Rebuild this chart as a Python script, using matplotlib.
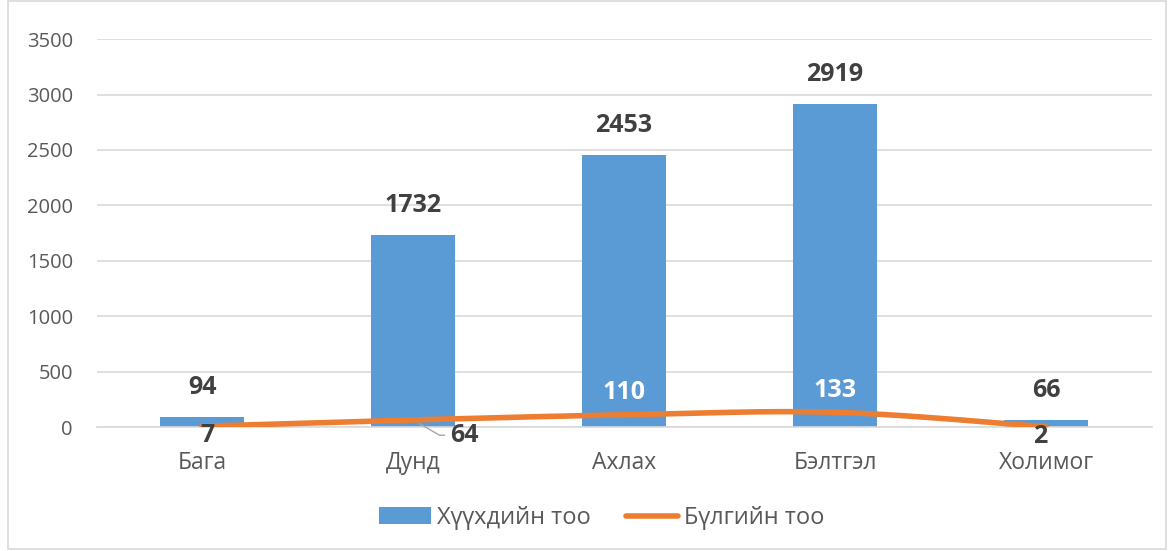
import numpy as np
import matplotlib
matplotlib.use("Agg")
import matplotlib.pyplot as plt
from matplotlib.patches import Rectangle

categories = ["Бага", "Дунд", "Ахлах", "Бэлтгэл", "Холимог"]
children = [94, 1732, 2453, 2919, 66]
families = [7, 64, 110, 133, 2]
series_names = ["Хүүхдийн тоо", "Бүлгийн тоо"]
yticks = [0, 500, 1000, 1500, 2000, 2500, 3000, 3500]

plt.rcParams['font.family'] = ['Open Sans', 'DejaVu Sans']

BLUE = "#5b9bd5"
ORANGE = "#ed7d31"
LABEL = "#404040"
TICK = "#595959"
GRID = "#d9d9d9"

fig = plt.figure(figsize=(11.7, 5.51), dpi=100)
ax = fig.add_axes([0.0825, 0.225, 0.9017, 0.704])

x = np.arange(len(categories))
ax.bar(x, children, width=0.4, color=BLUE, label=series_names[0], zorder=2)


def smooth(xs, ys, n=40, t=0.5):
    xs = np.asarray(xs, float); ys = np.asarray(ys, float)
    px = np.concatenate([[xs[0]], xs, [xs[-1]]])
    py = np.concatenate([[ys[0]], ys, [ys[-1]]])
    outx, outy = [], []
    for i in range(1, len(px) - 2):
        p0 = np.array([px[i], py[i]]); p1 = np.array([px[i + 1], py[i + 1]])
        m0 = (np.array([px[i + 1], py[i + 1]]) - np.array([px[i - 1], py[i - 1]])) * t / 3
        m1 = (np.array([px[i + 2], py[i + 2]]) - np.array([px[i], py[i]])) * t / 3
        c1 = p0 + m0; c2 = p1 - m1
        s = np.linspace(0, 1, n)[:, None]
        pts = (1 - s) ** 3 * p0 + 3 * (1 - s) ** 2 * s * c1 + 3 * (1 - s) * s ** 2 * c2 + s ** 3 * p1
        outx.extend(pts[:, 0]); outy.extend(pts[:, 1])
    return np.array(outx), np.array(outy)


sx, sy = smooth(x, families)
ax.plot(sx, sy, color=ORANGE, lw=4, solid_capstyle='round', zorder=3, label=series_names[1])

ax.set_xlim(-0.5, len(categories) - 0.5)
ax.set_ylim(0, 3500)
ax.set_yticks(yticks)
ax.set_xticks(x)
ax.set_xticklabels(categories, fontsize=16.5, color=TICK)
ax.tick_params(axis='y', labelsize=14.5, colors=TICK, length=0, pad=17)
ax.tick_params(axis='x', length=0, pad=17)
ax.grid(axis='y', color=GRID, lw=1.2, zorder=0)
for s in ['top', 'right', 'left']:
    ax.spines[s].set_visible(False)
ax.spines['bottom'].set_color(GRID)
ax.spines['bottom'].set_linewidth(1.2)

LFS = 18

# bar labels
for xi, v in zip(x, children):
    ax.annotate(str(v), (xi, v), xytext=(0, 21), textcoords='offset points',
                ha='center', va='center', fontsize=LFS, fontweight='bold', color=LABEL, zorder=4)

# line labels
ax.annotate(str(families[0]), (x[0], families[0]), xytext=(4, -7), textcoords='offset points',
            ha='center', va='center', fontsize=LFS, fontweight='bold', color=LABEL, zorder=4)
ax.annotate(str(families[1]), (x[1], families[1]), xytext=(37, -11), textcoords='offset points',
            ha='center', va='center', fontsize=LFS, fontweight='bold', color=LABEL, zorder=4,
            arrowprops=dict(arrowstyle='-', color='#a6a6a6', lw=1,
                            connectionstyle='angle,angleA=0,angleB=-30,rad=0',
                            shrinkA=2, shrinkB=5, relpos=(0, 0.5)))
ax.annotate(str(families[2]), (x[2], families[2]), xytext=(0, 16), textcoords='offset points',
            ha='center', va='center', fontsize=LFS, fontweight='bold', color='white', zorder=4)
ax.annotate(str(families[3]), (x[3], families[3]), xytext=(0, 15.5), textcoords='offset points',
            ha='center', va='center', fontsize=LFS, fontweight='bold', color='white', zorder=4)
ax.annotate(str(families[4]), (x[4], families[4]), xytext=(-4, -7), textcoords='offset points',
            ha='center', va='center', fontsize=LFS, fontweight='bold', color=LABEL, zorder=4)

h, l = ax.get_legend_handles_labels()
order = [l.index(series_names[0]), l.index(series_names[1])]
leg = fig.legend([h[i] for i in order], [l[i] for i in order],
                 loc='center', bbox_to_anchor=(0.514, 0.06), ncol=2, frameon=False,
                 fontsize=17, handlelength=2.2, columnspacing=1.5, handletextpad=0.25)
for t in leg.get_texts():
    t.set_color(TICK)

fig.patches.append(Rectangle((0.007, 0.004), 0.99, 0.994, transform=fig.transFigure,
                             fill=False, edgecolor=GRID, lw=1.2))

fig.savefig("out.png", dpi=100)
